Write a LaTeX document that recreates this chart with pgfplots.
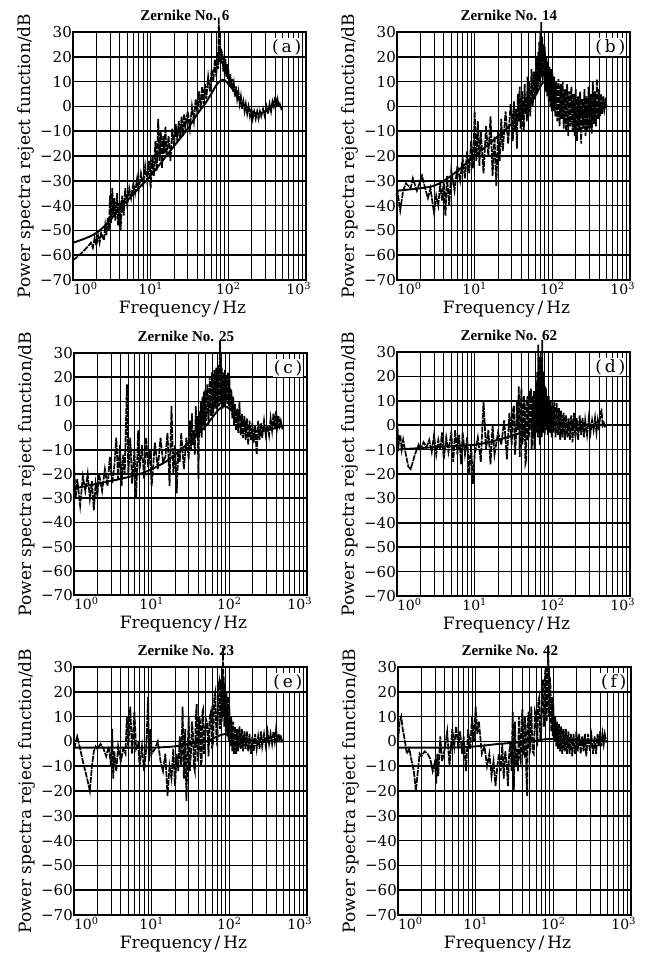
\documentclass[border=0pt]{standalone}
\usepackage{fontspec}
\setmainfont{DejaVu Serif}
\newfontfamily\titlefont{Liberation Serif}
\usepackage{pgfplots}
\pgfplotsset{compat=1.18}

\pgfplotsset{
  myaxis/.style={
    scale only axis, width=233pt,
    xmin=1, xmax=1000, ymin=-70, ymax=30,
    xtick={1,10,100,1000},
    xticklabels={\makebox[0pt][l]{10\textsuperscript{0}},10\textsuperscript{1},10\textsuperscript{2},\makebox[0pt][r]{10\textsuperscript{3}\hspace{-5pt}}},
    minor xtick={2,3,4,5,6,7,8,9,20,30,40,50,60,70,80,90,200,300,400,500,600,700,800,900},
    ytick={-70,-60,-50,-40,-30,-20,-10,0,10,20,30},
    yticklabels={−70,−60,−50,−40,−30,−20,−10,0,10,20,30},
    xmajorgrids, xminorgrids, ymajorgrids,
    major grid style={black, line width=1.5pt},
    minor grid style={black, line width=1.0pt},
    major tick length=0pt, minor tick length=0pt,
    axis line style={line width=1.8pt},
    yticklabel style={inner sep=1pt, font=\fontsize{15}{15}\selectfont},
    xticklabel style={inner sep=2pt, font=\fontsize{14}{14}\selectfont},
    xlabel={Frequency\,/\,Hz},
    ylabel={Power spectra reject function/dB},
    xlabel style={font=\fontsize{17}{17}\selectfont, at={(axis description cs:0.47,0)}, yshift=-29pt, anchor=center},
    ylabel style={font=\fontsize{17}{17}\selectfont, at={(axis description cs:-0.2,0.5)}, anchor=center},
    title style={font=\titlefont\bfseries\fontsize{15}{15}\selectfont, at={(axis description cs:0.48,1)}, anchor=south, inner sep=2pt, yshift=3pt},
    clip=false,
  },
  measline/.style={black, line width=1.7pt, dash pattern=on 6pt off 1pt},
  fitline/.style={black, line width=1.9pt, smooth},
}
\newcommand{\plabel}[1]{\node[fill=white, inner sep=1pt, anchor=north east, font=\fontsize{17}{17}\selectfont] at (rel axis cs:0.985,0.975) {(\,#1\,)};}

\begin{document}
\begin{tikzpicture}
\useasboundingbox (0pt,0pt) rectangle (651pt,-958pt);

% (a)
\begin{semilogxaxis}[myaxis, height=248pt, at={(73pt,-32pt)}, anchor=north west, title={Zernike No. 6}]
\addplot[measline] coordinates {
(1.00,-62) (1.10,-61) (1.20,-60) (1.30,-59) (1.40,-58) (1.50,-57) (1.60,-56) (1.70,-55)
(1.80,-57) (1.90,-53) (2.00,-56) (2.10,-52) (2.20,-55) (2.30,-51) (2.50,-54) (2.60,-48)
(2.70,-52) (2.80,-45) (2.90,-50) (3.00,-36) (3.10,-47) (3.20,-33) (3.30,-44) (3.40,-37)
(3.50,-46) (3.70,-35) (3.80,-48) (4.00,-38) (4.10,-50) (4.30,-36) (4.50,-44) (4.70,-33)
(5.00,-40) (5.30,-33) (5.60,-37) (6.00,-31) (6.30,-35) (6.70,-29) (7.00,-34) (7.50,-27)
(8.00,-32) (8.50,-24) (9.00,-30) (9.50,-22) (10.0,-33) (10.5,-20) (11.0,-28) (11.5,-14)
(12.0,-26) (12.5,-5) (13.0,-22) (13.5,-10) (14.0,-25) (14.5,-12) (15.0,-19) (15.5,-8)
(16.0,-20) (17.0,-12) (18.0,-22) (19.0,-9) (20.0,-16) (21.0,-7) (22.0,-14) (23.0,-6)
(24.0,-13) (25.0,-4) (26.0,-12) (27.0,-3) (28.0,-8) (30.0,-2) (32.0,-9) (34.0,0)
(36.0,-6) (38.0,3) (40.0,-3) (42.0,6) (44.0,-1) (46.0,8) (48.0,1) (50.0,9)
(52.0,3) (55.0,12) (58.0,6) (61.0,15) (64.0,10) (67.0,19) (70.0,12) (72.0,22)
(74.0,15) (75.5,36) (76.0,18) (78.0,24) (80.0,17) (82.0,22) (84,21) (86,14) (88,20)
(90,13) (92,19) (94,12) (96,17) (98,11) (100,15) (103,9) (106,13) (109,8) (112,11)
(115,6) (118,9) (122,4) (126,8) (130,3) (135,6) (140,1) (145,4) (150,-1) (156,2)
(162,-2) (168,1) (175,-3) (182,0) (190,-4) (198,-1) (206,-5) (215,-2) (225,-5)
(235,-2) (245,-5) (255,-2) (265,-4) (280,-1) (295,-4) (310,0) (325,-3) (340,1)
(355,-2) (370,2) (385,0) (400,4) (415,1) (430,3) (445,0) (460,1) (480,-1) (500,0)
};
\addplot[fitline] coordinates {
(1,-55) (1.5,-53) (2,-51) (2.5,-48.5) (3,-46) (4,-41) (5,-38) (7,-33) (10,-28)
(15,-21) (20,-16) (30,-9) (40,-3) (50,1) (60,5) (70,8.5) (80,10.5) (90,10.5)
(100,9) (120,6) (150,1) (200,-2) (250,-3) (300,-2) (400,0.5) (500,-0.5)
};
\plabel{a}
\end{semilogxaxis}

% (b)
\begin{semilogxaxis}[myaxis, height=248pt, at={(397pt,-32pt)}, anchor=north west, title={Zernike No. 14}]
\addplot[measline] coordinates {
(1.00,-33) (1.10,-42) (1.20,-34) (1.30,-31) (1.50,-33) (1.60,-29) (1.80,-34) (2.00,-30)
(2.10,-28) (2.30,-33) (2.50,-37) (2.70,-33) (2.90,-40) (3.00,-43) (3.20,-36) (3.40,-40)
(3.60,-31) (3.80,-38) (4.00,-30) (4.20,-44) (4.40,-28) (4.70,-40) (5.00,-26) (5.50,-34)
(6.00,-24) (6.50,-30) (7.00,-21) (7.50,-29) (8.00,-18) (8.50,-27) (9.00,-14) (9.50,-25)
(10.0,-2) (10.5,-22) (11.0,-6) (11.5,-24) (12.0,-10) (13.0,-27) (14.0,-8) (15.0,-20)
(16.0,-4) (17.0,-28) (18.0,-12) (19.0,-32) (20.0,-10) (21.0,-22) (22.0,-5) (23.0,-18)
(25.0,-2) (27.0,-15) (29.0,1) (30,-3) (31,-14) (32,2) (33,-10) (34,-1) (35,-17) (36,5)
(37,-6) (38,8) (39,-9) (40,2) (41,6) (42,-8) (43,-10) (44,9) (45,-3) (46,4) (47,-6)
(48,12) (49,-2) (50,10) (52,-4) (54,15) (56,0) (58,14) (60,3) (62,20) (64,5) (66,22)
(67,8) (68,26) (69,10) (70,30) (71,12) (72,34) (73,14) (74,28) (75,10) (76,25) (78,12)
(80,24) (82,6) (84,20) (86,4) (88,18) (90,2) (92,16) (94,0) (96,15) (98,-2) (100,14)
(103,-2) (106,12) (109,-4) (112,10) (116,-6) (120,11) (124,-8) (128,9) (132,-5)
(136,10) (140,-9) (145,7) (150,-10) (155,9) (160,-12) (165,6) (170,-8) (176,8)
(182,-10) (188,5) (194,-12) (200,7) (207,-14) (214,4) (221,-10) (228,6) (235,-15)
(243,3) (251,-9) (259,7) (267,-12) (275,4) (284,-10) (293,8) (302,-9) (312,5)
(322,-11) (332,10) (342,-7) (353,6) (364,-8) (375,11) (387,-5) (400,7) (413,-4)
(426,5) (440,-3) (455,4) (470,-1) (485,2) (500,0)
};
\addplot[fitline] coordinates {
(1,-34) (2,-33) (3,-32) (4,-30) (6,-26) (10,-20) (20,-12) (30,-7) (50,0)
(70,8) (80,10) (100,8) (150,2) (200,-2) (300,-2) (500,0)
};
\plabel{b}
\end{semilogxaxis}

% (c)
\begin{semilogxaxis}[myaxis, height=242pt, at={(74pt,-353pt)}, anchor=north west, title={Zernike No. 25}]
\addplot[measline] coordinates {
(1.00,-16) (1.05,-30) (1.10,-22) (1.20,-33) (1.30,-21) (1.40,-27) (1.50,-20) (1.60,-30)
(1.70,-23) (1.80,-35) (1.90,-24) (2.00,-29) (2.10,-20) (2.30,-27) (2.50,-18) (2.70,-25)
(2.90,-13) (3.10,-24) (3.30,-17) (3.50,-5) (3.70,-22) (3.90,-8) (4.10,-25) (4.30,-12)
(4.50,-20) (4.80,17) (5.00,-20) (5.30,-5) (5.60,-24) (6.00,-10) (6.30,-30) (6.70,-2)
(7.00,-18) (7.50,-8) (8.00,-22) (8.50,-5) (9.00,-17) (9.50,-10) (10.0,-25) (11.0,-7)
(12.0,-18) (13.0,-5) (14.0,-15) (15.0,-13) (16.0,-3) (17.0,-25) (18.0,8) (19.0,-20)
(20.0,-8) (21.0,-28) (22.0,-10) (23.0,-15) (24.0,-3) (26.0,-18) (28.0,-5)
(30,-14) (31,2) (32,-10) (33,5) (34,-8) (35,-2) (36,-12) (37,8) (38,-5) (39,4) (40,-22)
(41,6) (42,-3) (43,10) (44,-5) (45,12) (46,0) (47,14) (48,-2) (49,15) (50,2) (52,17)
(54,0) (56,20) (58,4) (60,22) (62,5) (64,23) (66,7) (68,24) (70,6) (72,25) (74,8)
(76,35) (78,9) (80,24) (82,7) (84,22) (86,8) (88,23) (90,10) (92,21) (94,9) (96,22)
(98,8) (100,21) (103,6) (106,15) (109,3) (112,12) (115,0) (118,9) (122,-2) (126,7)
(130,-3) (135,10) (140,-4) (145,5) (150,-5) (156,4) (162,-6) (168,3) (175,-8) (182,2)
(190,-6) (198,1) (206,-7) (215,0) (225,-12) (235,2) (245,-6) (255,1) (265,-5) (280,2)
(295,-4) (310,0) (325,-4) (340,3) (355,-2) (370,5) (385,-1) (400,6) (415,0) (430,4)
(445,0) (460,2) (480,-1) (500,0)
};
\addplot[fitline] coordinates {
(1,-26) (2,-24) (4,-22) (7,-20) (10,-18) (15,-15) (20,-12) (30,-7) (50,0)
(70,6) (85,8) (100,7) (150,2) (200,-2) (300,-2) (500,0)
};
\plabel{c}
\end{semilogxaxis}

% (d)
\begin{semilogxaxis}[myaxis, height=244pt, at={(397pt,-352pt)}, anchor=north west, title={Zernike No. 62}]
\addplot[measline] coordinates {
(1.00,2) (1.05,-8) (1.10,-4) (1.15,-10) (1.20,-6) (1.30,-12) (1.40,-17) (1.50,-18)
(1.60,-15) (1.70,-12) (1.80,-10) (1.90,-8) (2.00,-10) (2.20,-7) (2.40,-9) (2.60,-6)
(2.80,-11) (3.00,-4) (3.20,-12) (3.40,-6) (3.60,-10) (3.80,-3) (4.00,-14) (4.30,-5)
(4.60,-11) (5.00,-3) (5.30,-15) (5.60,-2) (6.00,-12) (6.30,-4) (6.70,-16) (7.00,-3)
(7.50,-12) (8.00,-5) (8.50,-20) (9.00,-8) (9.50,-24) (10.0,-12) (11.0,-5) (12.0,-15)
(13.0,10) (14.0,-10) (15.0,-2) (16.0,-16) (17.0,0) (18.0,-12) (20.0,-3) (22.0,-8)
(24.0,2) (26.0,-14) (28.0,5) (30,-8) (31,6) (32,8) (33,-12) (34,-6) (35,10) (36,-2)
(37,16) (38,-13) (39,4) (40,15) (41,-8) (42,-5) (43,12) (44,8) (45,-16) (46,-15)
(47,10) (48,12) (49,-6) (50,-4) (51,14) (52,10) (53,15) (54,-10) (55,-8) (56,12)
(57,-5) (58,14) (59,-10) (60,10) (61,-3) (62,18) (63,-3) (64,22) (65,-5) (66,33)
(67,5) (68,20) (69,-8) (70,28) (71,2) (72,18) (73,-5) (74,35) (75,8) (76,22) (77,-3)
(78,20) (79,0) (80,-4) (81,16) (82,2) (83,15) (84,-2) (86,12) (88,-4) (90,12) (92,-3)
(95,10) (98,-5) (100,8) (103,-3) (106,10) (110,-5) (114,9) (118,-4) (122,7) (126,-6)
(130,6) (135,-5) (140,5) (145,-6) (150,4) (156,-5) (162,3) (168,-6) (175,4) (182,-7)
(190,5) (198,-5) (206,3) (215,-6) (225,4) (235,-4) (245,3) (255,-5) (265,2) (280,-4)
(295,3) (310,-3) (325,2) (340,-2) (355,3) (370,-3) (385,2) (400,-2) (415,5) (430,6)
(445,0) (460,1) (480,-1) (500,0)
};
\addplot[fitline] coordinates {
(1,-10) (3,-9) (10,-8) (20,-6) (40,-3) (60,0) (80,2) (100,1) (200,0) (500,0)
};
\plabel{d}
\end{semilogxaxis}

% (e)
\begin{semilogxaxis}[myaxis, height=248pt, at={(74pt,-667pt)}, anchor=north west, title={Zernike No. 23}]
\addplot[measline] coordinates {
(1.00,-3) (1.10,2) (1.20,-3) (1.30,-8) (1.40,-12) (1.50,-16) (1.60,-20) (1.70,-10)
(1.80,-4) (1.90,-2) (2.00,-3) (2.20,-1) (2.40,-3) (2.60,-6) (2.80,-2) (3.00,-10)
(3.10,5) (3.20,-15) (3.30,-4) (3.50,-12) (3.70,-2) (4.00,-8) (4.30,-3) (4.60,-5)
(4.80,10) (5.00,-3) (5.30,14) (5.60,-5) (6.00,12) (6.30,-3) (6.70,-1) (7.00,-10)
(7.50,-2) (8.00,-12) (8.50,-3) (9.00,18) (9.30,-8) (9.70,5) (10.0,-5) (11.0,-3)
(12.0,0) (13.0,-8) (14.0,-12) (15.0,-5) (16.0,-22) (17.0,-10) (18.0,-15) (19.0,-3)
(20.0,-18) (21.0,-5) (22.0,-12) (23.0,2) (24.0,-10) (25.0,14) (26.0,-15) (27.0,5)
(28.0,-24) (29.0,-5) (30,10) (31,-12) (32,-5) (33,8) (34,3) (35,-10) (36,-12) (37,10)
(38,15) (39,-8) (40,-5) (41,10) (42,8) (43,-10) (44,-8) (45,12) (46,13) (47,-5) (48,-3)
(50,9) (52,7) (54,-6) (56,10) (58,12) (60,-3) (62,0) (64,18) (66,20) (68,3) (70,-2)
(72,22) (74,24) (76,5) (78,25) (80,8) (81,28) (82,10) (83,38) (84,12) (85,26) (86,6)
(88,22) (90,4) (92,20) (94,2) (96,18) (98,0) (100,14) (103,-2) (106,10) (109,-4)
(112,8) (115,-5) (118,6) (122,-5) (126,5) (130,-4) (135,6) (140,-3) (145,5) (150,-4)
(156,4) (162,-3) (168,4) (175,-4) (182,3) (190,-5) (198,2) (206,-4) (215,3) (225,-3)
(235,2) (245,-3) (255,4) (265,-2) (280,3) (295,-2) (310,4) (325,-1) (340,3) (355,-1)
(370,4) (385,0) (400,5) (415,0) (430,3) (445,1) (460,2) (480,0) (500,0)
};
\addplot[fitline] coordinates {
(1,-2.5) (3,-2.5) (10,-2.5) (20,-2) (30,-1) (50,0) (70,2) (90,3) (120,1) (200,0) (500,0)
};
\plabel{e}
\end{semilogxaxis}

% (f)
\begin{semilogxaxis}[myaxis, height=248pt, at={(398pt,-667pt)}, anchor=north west, title={Zernike No. 42}]
\addplot[measline] coordinates {
(1.00,0) (1.05,8) (1.10,10) (1.15,5) (1.20,2) (1.30,-5) (1.40,-3) (1.50,-8)
(1.60,-12) (1.70,-20) (1.80,-12) (1.90,-5) (2.00,-6) (2.20,-4) (2.40,-5) (2.60,-7)
(2.80,-12) (3.00,-8) (3.10,-17) (3.20,-5) (3.30,-14) (3.50,2) (3.70,-8) (4.00,-3)
(4.30,4) (4.60,-10) (5.00,5) (5.30,-2) (5.60,6) (6.00,-3) (6.30,4) (6.70,-5)
(7.00,2) (7.50,-12) (8.00,5) (8.50,-3) (9.00,10) (9.50,0) (10.0,14) (10.5,3)
(11.0,8) (12.0,-5) (13.0,-2) (14.0,-10) (15.0,-5) (16.0,-14) (17.0,-8) (18.0,-18)
(19.0,-10) (20.0,-5) (21.0,-12) (22.0,-1) (23.0,-15) (24.0,-4) (25.0,-8) (26.0,-18)
(27.0,-5) (28.0,0) (29.0,-12) (30,12) (31,-20) (32,8) (33,-10) (34,-3) (35,-12) (36,10)
(37,-6) (38,-8) (39,8) (40,13) (41,-4) (42,-5) (43,10) (44,5) (45,-15) (46,-22) (47,8)
(48,12) (49,-2) (50,-3) (52,14) (54,-4) (56,-5) (58,12) (60,10) (62,-2) (64,16) (66,18)
(68,0) (70,4) (72,22) (74,25) (76,6) (78,27) (80,30) (82,8) (84,24) (86,38) (88,10)
(90,26) (92,22) (94,4) (96,18) (98,2) (100,15) (103,0) (106,10) (109,-2) (112,8)
(115,-3) (118,7) (122,-4) (126,6) (130,-5) (135,5) (140,-4) (145,5) (150,-5) (156,4)
(162,-5) (168,3) (175,-6) (182,3) (190,-5) (198,4) (206,-4) (215,3) (225,-5) (235,2)
(245,-4) (255,3) (265,-6) (280,3) (295,-4) (310,2) (325,-5) (340,2) (355,-5) (370,3)
(385,-2) (400,4) (415,-2) (430,3) (445,-1) (460,3) (480,0) (500,0)
};
\addplot[fitline] coordinates {
(1,-2.5) (5,-2.5) (10,-2) (20,-1) (50,0) (100,1) (500,0)
};
\plabel{f}
\end{semilogxaxis}
\end{tikzpicture}
\end{document}
